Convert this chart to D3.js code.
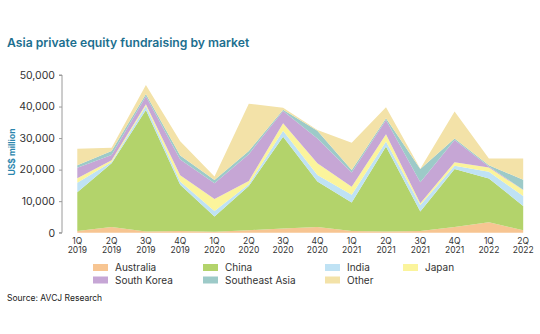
<!DOCTYPE html>
<html>
<head>
<meta charset="utf-8">
<script src="https://cdn.jsdelivr.net/npm/d3@7/dist/d3.min.js"></script>
<style>
  body { margin: 0; background: #fff; }
  svg { display: block; font-family: Inter, "Open Sans", sans-serif; }
</style>
</head>
<body>
<svg id="chart" width="540" height="334"></svg>
<script>
const quarters = ["1Q 2019","2Q 2019","3Q 2019","4Q 2019","1Q 2020","2Q 2020","3Q 2020","4Q 2020","1Q 2021","2Q 2021","3Q 2021","4Q 2021","1Q 2022","2Q 2022"];
const seriesNames = ["Australia","China","India","Japan","South Korea","Southeast Asia","Other"];
const australia    = [0.5, 1.8, 0.4, 0.5, 0.3, 0.8, 1.3, 1.8, 0.5, 0.4, 0.5, 1.8, 3.3, 0.8];
const china        = [12.3, 20.2, 38.5, 14.7, 4.8, 14.0, 29.1, 14.4, 9.1, 26.9, 6.2, 18.4, 13.9, 7.7];
const india        = [3.0, 0.4, 1.3, 1.0, 1.8, 0.6, 1.9, 2.1, 2.4, 1.6, 2.1, 1.0, 2.1, 3.1];
const japan        = [1.5, 0.6, 0.5, 2.0, 3.8, 1.0, 2.4, 3.7, 2.6, 2.3, 0.5, 1.1, 1.4, 1.9];
const southKorea   = [3.3, 1.6, 2.6, 5.0, 5.0, 8.5, 3.9, 7.9, 4.5, 4.5, 6.7, 7.1, 0.3, 0.1];
const southeastAsia= [0.8, 1.3, 0.7, 1.3, 1.0, 1.0, 0.4, 2.4, 0.8, 0.6, 4.2, 0.5, 0.4, 3.2];
const other        = [5.2, 1.0, 2.8, 4.5, 1.1, 15.0, 0.6, 0.3, 8.6, 3.5, 0.1, 8.5, 2.1, 6.7];
const yTicks = [0, 10000, 20000, 30000, 40000, 50000];
const colors = ["#f7c592", "#b3d36b", "#bfe2f4", "#fbf49c", "#c6a6d5", "#9dcac8", "#f3e2a8"];

const valuesBySeries = [australia, china, india, japan, southKorea, southeastAsia, other];
const rows = quarters.map((q, i) => {
  const r = { q };
  seriesNames.forEach((s, j) => r[s] = valuesBySeries[j][i] * 1000);
  return r;
});

const svg = d3.select("#chart");
const x = d3.scalePoint().domain(quarters).range([77.3, 523.2]);
const y = d3.scaleLinear().domain([0, 50000]).range([232.7, 75]);

const stack = d3.stack().keys(seriesNames)(rows);
const area = d3.area()
  .x(d => x(d.data.q))
  .y0(d => y(d[0]))
  .y1(d => y(d[1]));

svg.append("g").selectAll("path").data(stack).join("path")
  .attr("d", area)
  .attr("fill", (d, i) => colors[i]);

// Y axis
const yAxis = svg.append("g").attr("transform", "translate(62,0)")
  .call(d3.axisLeft(y).tickValues(yTicks).tickSize(3).tickPadding(4).tickFormat(d3.format(",")));
yAxis.select(".domain").attr("stroke", "#9a9a9a").attr("d", "M-3,75H0V232.7H-3");
yAxis.selectAll(".tick line").attr("stroke", "#9a9a9a");
yAxis.selectAll(".tick text").attr("font-size", 10.5).attr("fill", "#333").attr("font-family", "Inter, sans-serif");

// X labels
const xl = svg.append("g").selectAll("text").data(quarters).join("text")
  .attr("x", d => x(d))
  .attr("text-anchor", "middle")
  .attr("font-size", 8.5)
  .attr("fill", "#333");
xl.append("tspan").attr("x", d => x(d)).attr("y", 244).text(d => d.split(" ")[0]);
xl.append("tspan").attr("x", d => x(d)).attr("y", 253).text(d => d.split(" ")[1]);

// Y label
svg.append("text")
  .attr("transform", "translate(15,152) rotate(-90)")
  .attr("text-anchor", "middle")
  .attr("font-size", 8.5)
  .attr("font-weight", "bold")
  .attr("fill", "#2b86ad")
  .text("US$ million");

// Title
svg.append("text")
  .attr("x", 7).attr("y", 47)
  .attr("font-size", 12.2)
  .attr("font-weight", 600)
  .attr("fill", "#1c6f8f")
  .text("Asia private equity fundraising by market");

// Legend
const legendPos = [
  [93, 267.5], [203, 267.5], [325, 267.5], [403, 267.5],
  [93, 280], [203, 280], [325, 280]
];
const lg = svg.append("g").selectAll("g").data(seriesNames).join("g")
  .attr("transform", (d, i) => `translate(${legendPos[i][0]},${legendPos[i][1]})`);
lg.append("rect").attr("x", 0).attr("y", -3.5).attr("width", 15).attr("height", 7)
  .attr("fill", (d, i) => colors[i]);
lg.append("text").attr("x", 22).attr("y", 3.8).attr("font-size", 10).attr("fill", "#333").text(d => d);

// Source
svg.append("text")
  .attr("x", 7).attr("y", 301)
  .attr("font-size", 8.5)
  .attr("fill", "#222")
  .text("Source: AVCJ Research");
</script>
</body>
</html>
